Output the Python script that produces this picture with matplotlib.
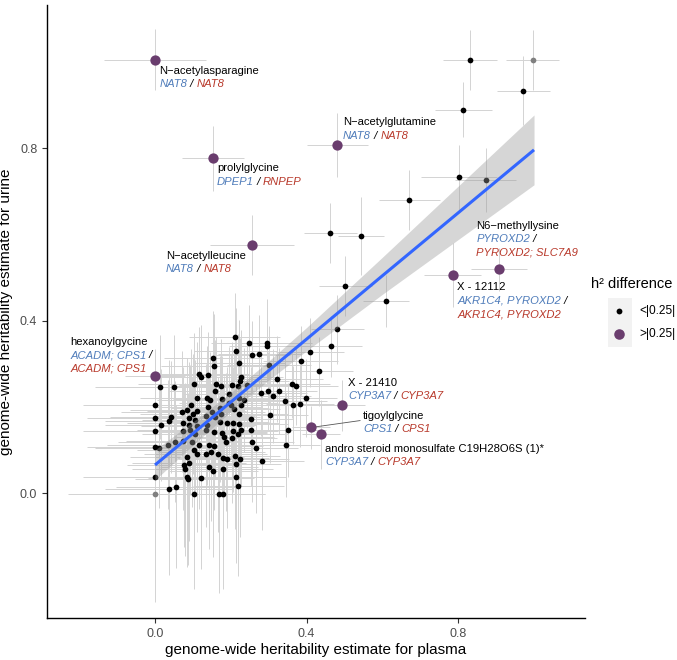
import matplotlib
matplotlib.use("Agg")
import numpy as np
import matplotlib.pyplot as plt
from matplotlib.offsetbox import TextArea, HPacker, AnnotationBbox
from matplotlib.patches import Rectangle
from matplotlib.lines import Line2D

plt.rcParams['font.family'] = ['Liberation Sans', 'DejaVu Sans']

# metabolites with |h2 plasma - h2 urine| < 0.25
plasma_h2 = [0.210, 0.248, 0.295, 0.296, 0.213, 0.154, 0.255, 0.275, 0.222, 0.156,
             0.408, 0.384, 0.465, 0.481, 0.432, 0.301, 0.322, 0.117, 0.121, 0.141,
             0.013, 0.051,
             0.361, 0.372, 0.280, 0.298, 0.312, 0.327, 0.343, 0.363, 0.382, 0.399,
             0.104, 0.173, 0.203, 0.218, 0.227, 0.223, 0.160, 0.110, 0.138, 0.144,
             0.158, 0.177, 0.195, 0.201, 0.221, 0.234, 0.242, 0.095, 0.084, 0.101,
             0.110, 0.090, 0.105, 0.134, 0.150, 0.158, 0.175, 0.209, 0.221, 0.228,
             0.303, 0.194, 0.141, 0.070, 0.172, 0.0, 0.0, 0.042, 0.038, 0.253,
             0.0, 0.017, 0.0, 0.011, 0.034, 0.053, 0.207, 0.222, 0.253, 0.256,
             0.091, 0.092, 0.112, 0.106, 0.137, 0.135, 0.171, 0.176, 0.189, 0.205,
             0.227, 0.220, 0.073, 0.155, 0.073, 0.097, 0.103, 0.117, 0.143, 0.155,
             0.187, 0.346, 0.352, 0.084, 0.111, 0.135, 0.149, 0.166, 0.180, 0.190,
             0.211, 0.224, 0.266, 0.075, 0.183, 0.203,
             0.0, 0.037, 0.056, 0.077, 0.080, 0.084, 0.088, 0.090, 0.121, 0.102,
             0.143, 0.153, 0.180, 0.213, 0.215, 0.220, 0.170, 0.180, 0.282,
             0.831, 0.971, 0.813, 0.801, 0.872, 0.671, 0.462, 0.544, 0.502, 0.610]
urine_h2 = [0.363, 0.347, 0.349, 0.340, 0.329, 0.313, 0.320, 0.322, 0.302, 0.295,
            0.326, 0.307, 0.340, 0.380, 0.282, 0.298, 0.264, 0.275, 0.270, 0.273,
            0.246, 0.246,
            0.254, 0.248, 0.232, 0.237, 0.225, 0.237, 0.213, 0.204, 0.206, 0.221,
            0.252, 0.248, 0.251, 0.248, 0.268, 0.259, 0.253, 0.221, 0.221, 0.216,
            0.236, 0.217, 0.229, 0.203, 0.220, 0.216, 0.251, 0.205, 0.193, 0.183,
            0.191, 0.175, 0.169, 0.179, 0.188, 0.177, 0.183, 0.194, 0.183, 0.203,
            0.180, 0.208, 0.199, 0.189, 0.198, 0.204, 0.175, 0.176, 0.168, 0.172,
            0.145, 0.158, 0.106, 0.105, 0.112, 0.119, 0.163, 0.159, 0.146, 0.119,
            0.158, 0.146, 0.155, 0.138, 0.158, 0.146, 0.165, 0.140, 0.163, 0.143,
            0.146, 0.137, 0.144, 0.142, 0.121, 0.118, 0.100, 0.112, 0.112, 0.110,
            0.118, 0.111, 0.146, 0.084, 0.090, 0.090, 0.094, 0.090, 0.081, 0.079,
            0.086, 0.078, 0.104, 0.162, 0.131, 0.127,
            0.037, 0.009, 0.015, 0.064, 0.055, 0.038, 0.033, 0.069, 0.034, -0.002,
            0.061, 0.051, 0.056, 0.068, 0.038, 0.017, -0.002, -0.002, 0.075,
            1.004, 0.933, 0.889, 0.732, 0.726, 0.680, 0.603, 0.596, 0.480, 0.445]
plasma_se = [0.12, 0.10, 0.12, 0.10, 0.11, 0.13, 0.10, 0.11, 0.12, 0.14,
             0.09, 0.10, 0.08, 0.07, 0.09, 0.11, 0.12, 0.13, 0.12, 0.14,
             0.17, 0.15,
             0.10, 0.11, 0.12, 0.13, 0.10, 0.09, 0.11, 0.10, 0.09, 0.08,
             0.15, 0.13, 0.14, 0.12, 0.11, 0.13, 0.14, 0.15, 0.13, 0.14,
             0.12, 0.13, 0.12, 0.14, 0.12, 0.11, 0.12, 0.16, 0.15, 0.14,
             0.13, 0.16, 0.14, 0.13, 0.14, 0.12, 0.13, 0.12, 0.13, 0.11,
             0.10, 0.13, 0.14, 0.16, 0.13, 0.19, 0.18, 0.16, 0.17, 0.11,
             0.19, 0.15, 0.18, 0.17, 0.16, 0.15, 0.12, 0.13, 0.12, 0.11,
             0.15, 0.14, 0.15, 0.14, 0.13, 0.14, 0.13, 0.12, 0.13, 0.12,
             0.12, 0.13, 0.16, 0.14, 0.15, 0.14, 0.15, 0.13, 0.14, 0.13,
             0.12, 0.09, 0.10, 0.15, 0.14, 0.13, 0.14, 0.13, 0.12, 0.13,
             0.12, 0.13, 0.11, 0.15, 0.13, 0.12,
             0.19, 0.17, 0.16, 0.15, 0.14, 0.15, 0.14, 0.15, 0.14, 0.13,
             0.13, 0.12, 0.13, 0.12, 0.13, 0.12, 0.12, 0.11, 0.11,
             0.07, 0.07, 0.075, 0.10, 0.08, 0.08, 0.07, 0.06, 0.07, 0.06]
urine_se = [0.10, 0.09, 0.10, 0.09, 0.10, 0.11, 0.08, 0.09, 0.10, 0.12,
            0.08, 0.08, 0.07, 0.08, 0.08, 0.09, 0.10, 0.11, 0.12, 0.10,
            0.12, 0.12,
            0.08, 0.09, 0.10, 0.09, 0.11, 0.10, 0.10, 0.09, 0.10, 0.09,
            0.12, 0.11, 0.10, 0.12, 0.11, 0.10, 0.11, 0.13, 0.12, 0.11,
            0.12, 0.10, 0.11, 0.12, 0.11, 0.12, 0.10, 0.13, 0.12, 0.14,
            0.12, 0.13, 0.14, 0.12, 0.13, 0.14, 0.12, 0.13, 0.11, 0.12,
            0.11, 0.12, 0.13, 0.14, 0.12, 0.13, 0.14, 0.13, 0.14, 0.12,
            0.14, 0.13, 0.15, 0.14, 0.15, 0.14, 0.13, 0.12, 0.13, 0.14,
            0.14, 0.15, 0.13, 0.14, 0.14, 0.13, 0.14, 0.15, 0.13, 0.14,
            0.13, 0.15, 0.14, 0.14, 0.16, 0.15, 0.16, 0.15, 0.16, 0.15,
            0.16, 0.12, 0.11, 0.17, 0.18, 0.17, 0.16, 0.18, 0.17, 0.16,
            0.17, 0.18, 0.15, 0.13, 0.14, 0.15,
            0.18, 0.20, 0.19, 0.19, 0.20, 0.21, 0.20, 0.18, 0.21, 0.22,
            0.19, 0.20, 0.19, 0.18, 0.20, 0.21, 0.23, 0.22, 0.16,
            0.07, 0.08, 0.064, 0.075, 0.075, 0.07, 0.07, 0.09, 0.07, 0.06]

# estimates sitting on the 0 / 1 boundary (drawn grey)
edge_plasma = [0.0, 0.996]
edge_urine = [-0.002, 1.004]
edge_plasma_se = [0.23, 0.07]
edge_urine_se = [0.25, 0.07]

# metabolites with |difference| > 0.25
hl_names = ["N\u2212acetylasparagine", "prolylglycine", "N\u2212acetylglutamine",
            "N\u2212acetylleucine", "N6\u2212methyllysine", "X - 12112",
            "hexanoylgycine", "X - 21410", "tigoylglycine",
            "andro steroid monosulfate C19H28O6S (1)*"]
hl_plasma = [0.0, 0.152, 0.481, 0.256, 0.908, 0.785, 0.0, 0.493, 0.412, 0.439]
hl_urine = [1.005, 0.776, 0.808, 0.575, 0.519, 0.506, 0.272, 0.203, 0.152, 0.136]
hl_plasma_se = [0.135, 0.082, 0.08, 0.11, 0.073, 0.076, 0.08, 0.06, 0.05, 0.05]
hl_urine_se = [0.071, 0.075, 0.074, 0.07, 0.05, 0.074, 0.045, 0.06, 0.05, 0.08]
hl_plasma_genes = ["NAT8", "DPEP1", "NAT8", "NAT8", "PYROXD2", "AKR1C4, PYROXD2",
                   "ACADM; CPS1", "CYP3A7", "CPS1", "CYP3A7"]
hl_urine_genes = ["NAT8", "RNPEP", "NAT8", "NAT8", "PYROXD2; SLC7A9", "AKR1C4, PYROXD2",
                  "ACADM; CPS1", "CYP3A7", "CPS1", "CYP3A7"]
hl_wrap = [False, False, False, False, True, True, True, False, False, False]
hl_label_x = [0.011, 0.163, 0.496, 0.029, 0.848, 0.798, -0.224, 0.510, 0.549, 0.449]
hl_label_y = [0.980, 0.753, 0.860, 0.550, 0.619, 0.477, 0.351, 0.255, 0.179, 0.102]
hl_leader = [False, False, False, False, False, False, False, False, True, False]

# linear fit with 95% band
fit_x = [0.0, 0.1, 0.2, 0.3, 0.4, 0.6, 0.8, 1.0]
fit_y = [0.065, 0.138, 0.211, 0.284, 0.357, 0.504, 0.650, 0.796]
fit_half = [0.035, 0.027, 0.022, 0.022, 0.027, 0.043, 0.062, 0.081]

BLUE_TXT = '#4F7CBA'
RED_TXT = '#B8392B'
PURPLE = '#6A3D6E'

fig = plt.figure(figsize=(6.77, 6.6), dpi=100)
ax = fig.add_axes([0.0694, 0.0636, 0.795, 0.9288])

all_x = plasma_h2 + edge_plasma + hl_plasma
all_y = urine_h2 + edge_urine + hl_urine
all_xe = plasma_se + edge_plasma_se + hl_plasma_se
all_ye = urine_se + edge_urine_se + hl_urine_se
ax.errorbar(all_x, all_y, xerr=all_xe, yerr=all_ye, fmt='none',
            ecolor='#D3D3D3', elinewidth=0.7, capsize=0, zorder=1)

ax.scatter(plasma_h2, urine_h2, s=17, c='black', linewidths=0, zorder=2)
ax.scatter(edge_plasma, edge_urine, s=17, c='#808080', linewidths=0, zorder=2)

lo = np.array(fit_y) - np.array(fit_half)
hi = np.array(fit_y) + np.array(fit_half)
ax.fill_between(fit_x, lo, hi, color='#999999', alpha=0.4, lw=0, zorder=3)
ax.plot(fit_x, fit_y, color='#3366FF', lw=2.2, zorder=4, solid_capstyle='butt')

ax.scatter(hl_plasma, hl_urine, s=55, c=PURPLE, linewidths=0, zorder=5)

# labels
FS = 8.1
gap = 9.6
for i in range(len(hl_names)):
    name_line = [(hl_names[i], 'black', 'normal')]
    if hl_wrap[i]:
        lines = [name_line,
                 [(hl_plasma_genes[i], BLUE_TXT, 'italic'), (' /', 'black', 'italic')],
                 [(hl_urine_genes[i], RED_TXT, 'italic')]]
    else:
        lines = [name_line,
                 [(hl_plasma_genes[i], BLUE_TXT, 'italic'), (' / ', 'black', 'italic'),
                  (hl_urine_genes[i], RED_TXT, 'italic')]]
    for j, parts in enumerate(lines):
        boxes = [TextArea(t, textprops=dict(color=c, style=s, size=FS)) for t, c, s in parts]
        pack = HPacker(children=boxes, align='baseline', pad=0, sep=0)
        ab = AnnotationBbox(pack, (hl_label_x[i], hl_label_y[i]), xybox=(0, -j * gap),
                            xycoords='data', boxcoords='offset points',
                            box_alignment=(0, 0.5), frameon=False, pad=0, zorder=6)
        ax.add_artist(ab)
    if hl_leader[i]:
        ax.plot([hl_plasma[i], hl_label_x[i] - 0.008], [hl_urine[i], hl_label_y[i] - 0.011],
                color='#555555', lw=0.6, zorder=4)

ax.set_xlim(-0.285, 1.135)
ax.set_ylim(-0.290, 1.132)
ax.set_xticks([0.0, 0.4, 0.8])
ax.set_xticklabels(['0.0', '0.4', '0.8'])
ax.set_yticks([0.0, 0.4, 0.8])
ax.set_yticklabels(['0.0', '0.4', '0.8'])
for s in ['top', 'right']:
    ax.spines[s].set_visible(False)
for s in ['left', 'bottom']:
    ax.spines[s].set_linewidth(1.0)
    ax.spines[s].set_color('black')
ax.tick_params(length=3.5, width=0.8, color='#333333', labelcolor='#4D4D4D', labelsize=9)
ax.set_xlabel('genome-wide heritability estimate for plasma', fontsize=11, labelpad=2)
ax.set_ylabel('genome-wide heritability estimate for urine', fontsize=11, labelpad=5)

# legend
W, H = 677.0, 660.0
fig.text(591 / W, 1 - 284 / H, 'h\u00b2 difference', fontsize=10.5, ha='left', va='center')
fig.add_artist(Rectangle((608 / W, 1 - 347 / H), 24 / W, 49 / H, transform=fig.transFigure,
                         facecolor='#F2F2F2', edgecolor='none'))
fig.add_artist(Line2D([619 / W], [1 - 311 / H], marker='o', markersize=4.2, color='black',
                      markeredgewidth=0, transform=fig.transFigure))
fig.add_artist(Line2D([619 / W], [1 - 334 / H], marker='o', markersize=7.6, color=PURPLE,
                      markeredgewidth=0, transform=fig.transFigure))
fig.text(639 / W, 1 - 311 / H, '<|0.25|', fontsize=8.6, ha='left', va='center')
fig.text(639 / W, 1 - 334 / H, '>|0.25|', fontsize=8.6, ha='left', va='center')

fig.savefig('out.png', dpi=100)
